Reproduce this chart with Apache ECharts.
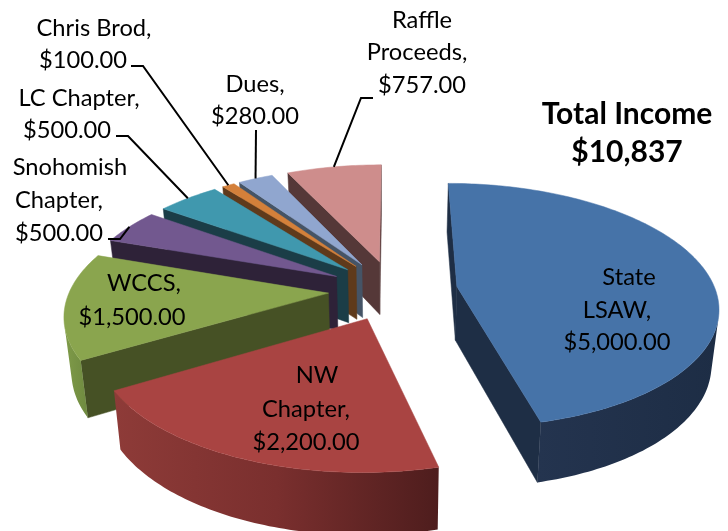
<!DOCTYPE html>
<html>
<head>
<meta charset="utf-8">
<style>html,body{margin:0;padding:0;background:#fff}#c{width:728px;height:531px}</style>
<script src="https://cdn.jsdelivr.net/npm/echarts@6/dist/echarts.min.js"></script>
</head>
<body>
<div id="c"></div>
<script>
// ---- data ----
const categories = ['State\nLSAW,', 'NW\nChapter,', 'WCCS,', 'Snohomish\nChapter,', 'LC Chapter,', 'Chris Brod,', 'Dues,', 'Raffle\nProceeds,'];
const values = [5000, 2200, 1500, 500, 500, 100, 280, 757];
const titleLines = ['Total Income', '$10,837'];

// ---- styles ----
const topColors = ['#4673A8', '#A94442', '#8AA54E', '#72588F', '#4098AE', '#D4803A', '#90A6CF', '#CE8D8C'];
const wallColors = ['#1E2E45', '#5A2221', '#465125', '#2E2238', '#1B3D47', '#5F3A1B', '#455466', '#553838'];
const rimColors = [['#24344F', '#1D2D45'], ['#8E3B38', '#7A2F2E', '#4E1D1D'], ['#7F9B49', '#6F8A40'], ['#2E2238', '#2E2238'], ['#1B3D47', '#1B3D47'], ['#5F3A1B', '#5F3A1B'], ['#455466', '#455466'], ['#553838', '#553838']];

// ---- layout (projection of the tilted pie, label placement) ----
const view = {xc: 393, yc: 290, A: 258.5, B: 120, k: 0.155, depth: 54, depthPow: 0.7, taper: 0.977, explode: 0.25};
const labelLines = [
  [[629, 277], [617, 310], [617, 342]],
  [[317, 375], [306, 409], [306, 442]],
  [[144, 283], [132, 317]],
  [[70, 167], [59, 200], [59, 233]],
  [[79, 98], [67, 130]],
  [[94, 28], [83, 60]],
  [[255, 84], [255, 116]],
  [[422, 20], [417, 52], [422, 85]]
];
const leaderStarts = [null, null, null, [[108, 239], [120, 239]], [[116, 136], [128, 136]], [[131, 66], [143, 66]], [[256, 130]], [[373, 98], [361, 98]]];
const labelFont = '23.7px Lato';

// ---- geometry derived from the values ----
const total = values.reduce((a, b) => a + b, 0);
const rad = d => d * Math.PI / 180;
const slices = [];
values.reduce((start, v) => {
  const sweep = v / total * 360;
  slices.push({start: start, end: start + sweep, mid: start + sweep / 2});
  return start + sweep;
}, 0);

function project(u, v) {
  const w = 1 + view.k * v;
  return {x: view.xc + view.A * u / w, y: view.yc - view.B * v / w, w: w};
}
function planePoint(s, theta, r) {
  const ox = view.explode * Math.sin(rad(s.mid));
  const oy = view.explode * Math.cos(rad(s.mid));
  return project(ox + r * Math.sin(rad(theta)), oy + r * Math.cos(rad(theta)));
}
const topPt = p => [p.x, p.y];
const lowPt = p => [view.xc + (p.x - view.xc) * view.taper, p.y + view.depth * Math.pow(1 / p.w, view.depthPow)];
function area(pts) {
  let a = 0;
  for (let i = 0; i < pts.length; i++) {
    const p = pts[i], q = pts[(i + 1) % pts.length];
    a += p[0] * q[1] - q[0] * p[1];
  }
  return a;
}
function wall(a, b, fill) {
  const pts = [topPt(a), topPt(b), lowPt(b), lowPt(a)];
  if (area(pts) >= 0) return null;
  return {type: 'polygon', shape: {points: pts}, style: {fill: fill, stroke: fill, lineWidth: 0.5}};
}
function renderSlice(params, api) {
  const i = api.value(0);
  const s = slices[i];
  const apex = planePoint(s, 0, 0);
  const steps = Math.max(4, Math.ceil(s.end - s.start));
  const arc = [];
  for (let n = 0; n <= steps; n++) arc.push(planePoint(s, s.start + (s.end - s.start) * n / steps, 1));
  const children = [];
  const w1 = wall(apex, arc[0], wallColors[i]);
  const w2 = wall(arc[steps], apex, wallColors[i]);
  if (w1) children.push(w1);
  if (w2) children.push(w2);
  // visible part of the outer rim
  let run = [];
  const flush = () => {
    if (run.length > 1) {
      const pts = run.map(topPt).concat(run.slice().reverse().map(lowPt));
      const cols = rimColors[i];
      children.push({type: 'polygon', shape: {points: pts}, style: {
        fill: new echarts.graphic.LinearGradient(0, 0, 1, 0, cols.map((c, n) => ({offset: n / (cols.length - 1), color: c}))),
        stroke: null
      }});
    }
    run = [];
  };
  for (let n = 0; n < steps; n++) {
    const q = [topPt(arc[n]), topPt(arc[n + 1]), lowPt(arc[n + 1]), lowPt(arc[n])];
    if (area(q) < 0) {
      if (!run.length) run.push(arc[n]);
      run.push(arc[n + 1]);
    } else flush();
  }
  flush();
  children.push({type: 'polygon', shape: {points: [topPt(apex)].concat(arc.map(topPt))}, style: {fill: topColors[i], stroke: topColors[i], lineWidth: 0.5}});
  return {type: 'group', children: children};
}
function money(v) {
  return '$' + v.toLocaleString('en-US', {minimumFractionDigits: 2, maximumFractionDigits: 2});
}
function renderLabel(params, api) {
  const i = api.value(0);
  const lines = categories[i].split('\n').concat(money(values[i]));
  const children = lines.map((t, n) => ({
    type: 'text',
    style: {text: t, x: labelLines[i][n][0], y: labelLines[i][n][1], align: 'center', verticalAlign: 'middle', font: labelFont, fill: '#000'}
  }));
  if (leaderStarts[i]) {
    const end = planePoint(slices[i], slices[i].mid, 1);
    children.push({type: 'polyline', shape: {points: leaderStarts[i].concat([[end.x, end.y]])}, style: {stroke: '#000', lineWidth: 2, fill: null}});
  }
  return {type: 'group', children: children};
}

const chart = echarts.init(document.getElementById('c'), null, {renderer: 'canvas'});
const rows = values.map((v, i) => [i, v]);
chart.setOption({
  animation: false,
  backgroundColor: '#fff',
  title: {
    text: titleLines.join('\n'), left: 622, top: 90, textAlign: 'center',
    textStyle: {fontFamily: 'Lato', fontWeight: 'bold', fontSize: 30, lineHeight: 38, color: '#000'}
  },
  series: [
    {type: 'custom', coordinateSystem: 'none', silent: true, z: 2, renderItem: renderSlice, data: rows.slice().reverse()},
    {type: 'custom', coordinateSystem: 'none', silent: true, z: 3, renderItem: renderLabel, data: rows}
  ]
});
</script>
</body>
</html>
